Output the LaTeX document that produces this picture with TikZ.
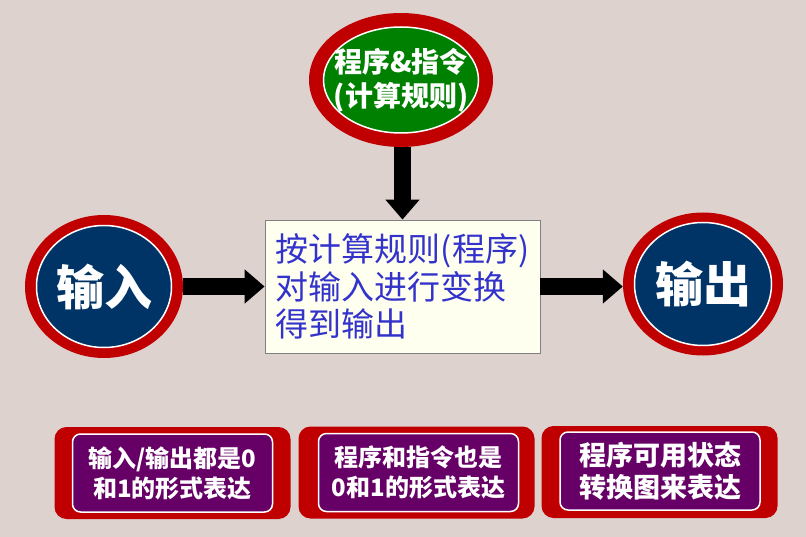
\documentclass[tikz,border=0pt]{standalone}
\usepackage{fontspec}
\setmainfont{Noto Sans CJK SC}
\usetikzlibrary{shapes.geometric,arrows.meta}
\definecolor{ringred}{RGB}{192,0,0}
\definecolor{signblue}{RGB}{0,51,102}
\definecolor{signgreen}{RGB}{0,128,0}
\definecolor{notepurple}{RGB}{102,0,102}
\definecolor{textblue}{RGB}{51,51,204}
\definecolor{boxcream}{RGB}{255,255,240}
\definecolor{bgrock}{RGB}{222,210,207}

\begin{document}
\begin{tikzpicture}[x=1pt,y=-1pt,every node/.style={inner sep=0pt},
  ring/.style={ellipse,fill=ringred},
  face/.style={ellipse,draw=white,line width=1.5pt},
  signtext/.style={text=white,font=\bfseries,align=center},
  bigarrow/.style={line width=17pt,-{Triangle[width=33pt,length=20pt]}},
  note/.style={rounded corners=12pt,fill=ringred,minimum width=236pt,minimum height=92pt},
  notein/.style={rounded corners=8pt,draw=white,line width=1.5pt,fill=notepurple,text=white,
    align=center,minimum width=200pt,minimum height=78pt}]
  \fill[bgrock] (0,0) rectangle (806,537);
  % signs
  \node[ring,minimum width=184pt,minimum height=134pt] (prog) at (401,80) {};
  \node[face,fill=signgreen,minimum width=155pt,minimum height=106pt] (progin) at (prog) {};
  \node[signtext,font=\bfseries\fontsize{28}{34}\selectfont] (progtxt) at (prog) {程序\&指令\\(计算规则)};
  \node[ring,minimum width=158pt,minimum height=143pt] (in) at (104,286.5) {};
  \node[face,fill=signblue,minimum width=135pt,minimum height=122pt] (inin) at (in) {};
  \node[signtext,font=\bfseries\fontsize{48}{52}\selectfont] (intxt) at (in) {输入};
  \node[ring,minimum width=160pt,minimum height=143pt] (out) at (703,284) {};
  \node[face,fill=signblue,minimum width=137pt,minimum height=123pt] (outin) at (out) {};
  \node[signtext,font=\bfseries\fontsize{48}{52}\selectfont] (outtxt) at (out) {输出};
  % rule box
  \node[draw=gray,line width=0.8pt,fill=boxcream,text=textblue,align=left,
    minimum width=275pt,minimum height=133pt,font=\fontsize{33}{37.5}\selectfont] (rule) at (402.5,286.5)
    {按计算规则(程序)\\对输入进行变换\\得到输出};
  \draw[bigarrow] (rule.north |- prog.south) -- (rule.north);
  \draw[bigarrow] (in.east |- rule.west) -- (rule.west);
  \draw[bigarrow] (rule.east) -- (out.west |- rule.east);
  % notes
  \node[note] (n1) at (172.5,473) {};
  \node[notein,font=\bfseries\fontsize{24}{30}\selectfont] (n1in) at (n1) {输入/输出都是0\\和1的形式表达};
  \node[note] (n2) at (416.5,472.5) {};
  \node[notein,font=\bfseries\fontsize{24}{30}\selectfont] (n2in) at (418.5,472.5) {程序和指令也是\\0和1的形式表达};
  \node[note] (n3) at (659.5,472) {};
  \node[notein,font=\bfseries\fontsize{27}{32}\selectfont] (n3in) at (660,471) {程序可用状态\\转换图来表达};
\end{tikzpicture}
\end{document}
